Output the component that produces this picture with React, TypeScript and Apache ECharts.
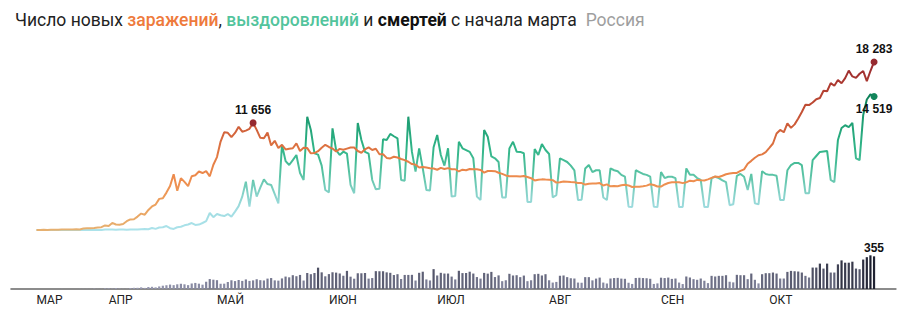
import React, { useEffect, useRef } from 'react';
import * as echarts from 'echarts';

// ---- axis / labels ----
const axisStart = '2020-03-05';
const axisEnd = '2020-11-05';
const dataStart = '2020-03-12';
const monthLabels = ['МАР', 'АПР', 'МАЙ', 'ИЮН', 'ИЮЛ', 'АВГ', 'СЕН', 'ОКТ'];
const monthLabelDates = ['2020-03-12', '2020-04-01', '2020-05-01', '2020-06-01', '2020-07-01', '2020-08-01', '2020-09-01', '2020-10-01'];

// ---- new infections (from 12 March) ----
const casesMar = [6, 11, 14, 4, 30, 21, 33, 52, 54, 53, 61, 71, 57, 163, 182, 196, 228, 270, 302, 501];
const casesApr = [440, 771, 601, 582, 658, 954, 1154, 1175, 1459, 1786, 1667, 2186, 2558, 2774, 3388, 3448, 4070, 4785, 6060, 4268, 5642, 5236, 4774, 5849, 5966, 6361, 6198, 6411, 5841, 7099];
const casesMay = [7933, 9623, 10633, 10581, 10102, 10559, 11231, 10699, 10817, 11012, 11656, 10899, 10028, 9974, 10598, 9200, 9709, 8926, 9263, 8764, 8849, 8894, 9434, 8599, 8946, 8915, 8338, 8371, 8572, 8952, 9268];
const casesJun = [9035, 8863, 8536, 8831, 8726, 8855, 8984, 8985, 8595, 8404, 8779, 8987, 8706, 8835, 8246, 8248, 7843, 7790, 7972, 7889, 7728, 7600, 7425, 7176, 7113, 6800, 6852, 6791, 6719, 6693];
const casesJul = [6556, 6760, 6632, 6736, 6611, 6611, 6368, 6562, 6509, 6635, 6615, 6611, 6537, 6248, 6422, 6428, 6406, 6234, 6109, 5940, 5842, 5862, 5848, 5811, 5871, 5765, 5635, 5395, 5475, 5509, 5482];
const casesAug = [5462, 5427, 5159, 5204, 5267, 5241, 5212, 5189, 5118, 5102, 4945, 5041, 5065, 5061, 5102, 4839, 4969, 4748, 4790, 4767, 4870, 4921, 4852, 4676, 4696, 4711, 4758, 4829, 4980, 4897, 4729];
const casesSep = [4729, 4952, 5110, 5185, 5205, 5195, 5099, 5185, 5363, 5310, 5449, 5406, 5394, 5509, 5670, 5816, 5762, 5905, 6065, 6148, 6196, 6215, 6431, 6595, 7212, 7523, 7867, 8135, 8232, 8481];
const casesOct = [8945, 9412, 10499, 10888, 10633, 11615, 11115, 11493, 12126, 12846, 13634, 13592, 13868, 14231, 14362, 15150, 15099, 15982, 15700, 16319, 15971, 16521, 17340, 16710, 16550, 17000, 17300, 16202, 17300, 18283];

// ---- recoveries ----
const recMar = [0, 0, 1, 0, 0, 3, 0, 2, 3, 0, 9, 0, 0, 5, 0, 3, 6, 0, 1, 45];
const recApr = [45, 41, 28, 46, 43, 39, 61, 52, 61, 94, 117, 88, 224, 121, 269, 300, 430, 200, 120, 300, 350, 508, 600, 760, 550, 587, 762, 963, 1850, 1400];
const recMay = [1740, 1600, 1520, 1740, 1450, 2000, 2600, 3630, 5260, 2540, 5440, 3630, 4600, 5510, 5000, 4900, 3900, 2900, 9250, 7500, 7070, 7600, 8160, 6200, 5440, 12330, 10880, 8340, 8200, 7000, 4350];
const recJun = [4100, 11060, 8700, 8160, 8520, 8300, 4900, 4000, 11650, 9800, 8500, 8300, 5440, 4430, 4500, 9870, 9800, 10450, 10200, 9970, 5440, 5360, 12330, 8500, 6350, 8880, 6700, 4350, 4300, 9000];
const recJul = [10340, 8160, 7000, 8890, 3630, 3700, 9600, 8890, 8700, 8500, 7800, 3630, 3260, 10880, 10150, 8000, 7800, 7400, 3540, 3540, 8880, 9600, 8520, 8500, 8350, 3050, 3050, 8800, 8160, 9350, 8700];
const recAug = [8270, 3540, 3800, 7800, 7600, 7400, 7000, 6500, 3260, 3300, 6700, 7070, 6300, 6500, 6500, 3540, 3260, 6700, 6500, 6400, 6000, 5800, 2540, 2500, 6500, 6300, 6100, 6000, 5800, 2540, 2500];
const recSep = [6300, 5650, 5800, 5800, 5650, 2500, 2500, 6700, 6000, 6000, 5650, 5440, 2500, 2500, 5650, 5800, 5650, 5400, 5200, 2700, 2800, 5900, 6100, 5800, 4350, 6100, 2900, 2800, 6400, 6100];
const recOct = [6000, 6000, 5900, 3260, 3260, 6500, 7070, 7300, 7300, 7070, 4000, 4000, 7600, 8050, 8500, 8550, 8600, 5440, 5200, 9800, 11100, 11400, 11200, 11650, 7800, 7600, 12500, 14200, 14750, 14519];

// ---- deaths ----
const deathsMar = [0, 0, 0, 0, 0, 0, 0, 1, 0, 0, 0, 0, 1, 1, 1, 1, 4, 1, 1, 7];
const deathsApr = [7, 4, 9, 4, 2, 2, 11, 13, 13, 18, 12, 22, 24, 18, 28, 36, 41, 48, 42, 51, 57, 51, 42, 60, 66, 58, 47, 79, 108, 101];
const deathsMay = [96, 57, 58, 76, 95, 86, 98, 88, 104, 88, 94, 107, 96, 93, 113, 119, 94, 91, 115, 135, 127, 150, 139, 153, 92, 174, 161, 174, 232, 181, 138];
const deathsJun = [162, 182, 178, 169, 144, 197, 134, 112, 171, 171, 174, 113, 119, 194, 193, 193, 181, 176, 152, 161, 109, 153, 153, 154, 92, 176, 188, 104, 93, 216];
const deathsJul = [147, 176, 168, 168, 135, 104, 198, 173, 174, 188, 168, 130, 113, 175, 167, 186, 130, 148, 85, 95, 165, 147, 150, 129, 146, 85, 95, 161, 165, 147, 161];
const deathsAug = [95, 70, 77, 144, 147, 129, 117, 114, 70, 68, 129, 129, 94, 113, 124, 70, 60, 114, 119, 121, 113, 111, 68, 55, 120, 122, 119, 117, 111, 55, 61];
const deathsSep = [123, 119, 124, 110, 114, 70, 54, 136, 125, 107, 100, 114, 90, 64, 143, 136, 143, 143, 150, 79, 72, 154, 150, 150, 107, 168, 100, 61, 161, 172];
const deathsOct = [172, 179, 168, 114, 114, 186, 197, 193, 190, 179, 143, 125, 233, 233, 276, 222, 276, 179, 179, 268, 311, 286, 286, 297, 222, 215, 320, 346, 366, 355];

const cases = [...casesMar, ...casesApr, ...casesMay, ...casesJun, ...casesJul, ...casesAug, ...casesSep, ...casesOct];
const recovered = [...recMar, ...recApr, ...recMay, ...recJun, ...recJul, ...recAug, ...recSep, ...recOct];
const deaths = [...deathsMar, ...deathsApr, ...deathsMay, ...deathsJun, ...deathsJul, ...deathsAug, ...deathsSep, ...deathsOct];

function buildCategories(from: string, to: string): string[] {
  const out: string[] = [];
  const d = new Date(from + 'T00:00:00Z');
  const end = new Date(to + 'T00:00:00Z');
  while (d.getTime() <= end.getTime()) {
    out.push(d.toISOString().slice(0, 10));
    d.setUTCDate(d.getUTCDate() + 1);
  }
  return out;
}

const fmt = (v: number) => String(v).replace(/\B(?=(\d{3})+(?!\d))/g, ' ');

function mix(a: string, b: string, t: number) {
  const pa = [1, 3, 5].map((i) => parseInt(a.slice(i, i + 2), 16));
  const pb = [1, 3, 5].map((i) => parseInt(b.slice(i, i + 2), 16));
  const c = pa.map((x, i) => Math.round(x + (pb[i] - x) * t));
  return `rgb(${c[0]},${c[1]},${c[2]})`;
}

const valueLabel = {
  color: '#111',
  fontWeight: 'bold' as const,
  fontSize: 12,
  fontFamily: 'Liberation Sans, Arial, sans-serif',
};

export default function App() {
  const ref = useRef<HTMLDivElement>(null);

  useEffect(() => {
    if (!ref.current) return;
    const chart = echarts.init(ref.current, undefined, { renderer: 'svg' });

    const categories = buildCategories(axisStart, axisEnd);
    const offset = categories.indexOf(dataStart);
    const n = categories.length;

    const peakIdx = cases.indexOf(Math.max(...casesMay));
    const lastIdx = cases.length - 1;

    const caseData: any[] = new Array(n).fill(null);
    const recData: any[] = new Array(n).fill(null);
    const deathData: any[] = new Array(n).fill(null);

    cases.forEach((v, i) => {
      if (i === peakIdx || i === lastIdx) {
        caseData[offset + i] = {
          value: v,
          symbol: 'circle',
          symbolSize: 7,
          itemStyle: { color: '#962a30' },
          label: { show: true, position: 'top', distance: 3, formatter: fmt(v), ...valueLabel },
        };
      } else caseData[offset + i] = v;
    });
    recovered.forEach((v, i) => {
      if (i === recovered.length - 1) {
        recData[offset + i] = {
          value: v,
          symbol: 'circle',
          symbolSize: 7,
          itemStyle: { color: '#12855b' },
          label: { show: true, position: 'bottom', distance: 3, formatter: fmt(v), ...valueLabel },
        };
      } else recData[offset + i] = v;
    });
    const maxD = Math.max(...deaths);
    deaths.forEach((v, i) => {
      if (i === deaths.length - 1) {
        deathData[offset + i] = {
          value: v,
          label: { show: true, position: 'top', distance: 2, formatter: fmt(v), ...valueLabel },
        };
      } else deathData[offset + i] = v;
    });

    const labelMap: Record<string, string> = {};
    monthLabelDates.forEach((d, i) => (labelMap[d] = monthLabels[i]));

    const caseGradient = new echarts.graphic.LinearGradient(0, 0, 0, 1, [
      { offset: 0, color: '#952830' },
      { offset: 0.15, color: '#b03c30' },
      { offset: 0.36, color: '#cc5a38' },
      { offset: 0.55, color: '#e27a44' },
      { offset: 0.7, color: '#ee8d4e' },
      { offset: 0.85, color: '#eca15e' },
      { offset: 1, color: '#e6b070' },
    ]);
    const recGradient = new echarts.graphic.LinearGradient(0, 0, 0, 1, [
      { offset: 0, color: '#0c7f57' },
      { offset: 0.2, color: '#1f9f74' },
      { offset: 0.4, color: '#31b588' },
      { offset: 0.6, color: '#5cc4a6' },
      { offset: 0.75, color: '#8bd4cd' },
      { offset: 0.85, color: '#a2dde2' },
      { offset: 1, color: '#abe2ea' },
    ]);

    const gridLeft = 11.2;
    const gridRight = 8.3;
    const tf = 'Roboto';
    const ts = 17.5;

    chart.setOption({
      animation: false,
      backgroundColor: '#fff',
      title: {
        left: 10,
        top: 6,
        text:
          '{n|Число новых }{o|заражений}{n|, }{g|выздоровлений}{n| и }{b|смертей}{n| с начала марта}{r|Россия}',
        textStyle: {
          fontFamily: tf,
          fontSize: ts,
          fontWeight: 'normal',
          rich: {
            n: { color: '#222', fontSize: ts, fontFamily: tf, fontWeight: 'normal' },
            o: { color: '#ee7a3c', fontSize: ts, fontFamily: tf, fontWeight: 500 },
            g: { color: '#52c49c', fontSize: ts, fontFamily: tf, fontWeight: 500 },
            b: { color: '#111', fontSize: ts, fontFamily: tf, fontWeight: 'bold' },
            r: { color: '#9e9e9e', fontSize: ts, fontFamily: tf, fontWeight: 'normal', padding: [0, 0, 0, 9] },
          },
        },
      },
      grid: [
        { left: gridLeft, right: gridRight, top: 46.2, bottom: 89 },
        { left: gridLeft, right: gridRight, top: 252.2, bottom: 30 },
      ],
      xAxis: [
        {
          type: 'category',
          gridIndex: 0,
          data: categories,
          boundaryGap: false,
          show: false,
        },
        {
          type: 'category',
          gridIndex: 1,
          data: categories,
          boundaryGap: false,
          axisLine: { show: true, lineStyle: { color: '#8c8c8c', width: 2 } },
          axisTick: { show: false },
          splitLine: { show: false },
          axisLabel: {
            interval: (_i: number, value: string) => value in labelMap,
            formatter: (value: string) => labelMap[value] || '',
            align: 'left',
            margin: 5,
            color: '#222',
            fontSize: 12,
            fontFamily: tf,
          },
        },
      ],
      yAxis: [
        { type: 'value', gridIndex: 0, min: 0, max: 20000, show: false, splitLine: { show: false } },
        { type: 'value', gridIndex: 1, min: 0, max: 400, show: false, splitLine: { show: false } },
      ],
      series: [
        {
          name: 'выздоровления',
          type: 'line',
          xAxisIndex: 0,
          yAxisIndex: 0,
          data: recData,
          symbol: 'none',
          showAllSymbol: true,
          lineStyle: { width: 2, color: recGradient },
          z: 2,
          silent: true,
        },
        {
          name: 'заражения',
          type: 'line',
          xAxisIndex: 0,
          yAxisIndex: 0,
          data: caseData,
          symbol: 'none',
          showAllSymbol: true,
          lineStyle: { width: 2, color: caseGradient },
          z: 3,
          silent: true,
        },
        {
          name: 'смерти',
          type: 'bar',
          xAxisIndex: 1,
          yAxisIndex: 1,
          data: deathData,
          barWidth: 2.2,
          silent: true,
          itemStyle: {
            color: (p: any) => {
              const v = typeof p.value === 'number' ? p.value : 0;
              const t = Math.pow(Math.min(1, v / maxD), 1.1);
              return mix('#9a9cb6', '#1c1e2e', t);
            },
          },
          z: 3,
        },
      ],
    });

    return () => chart.dispose();
  }, []);

  return (
    <div
      ref={ref}
      style={{ position: 'absolute', left: 0, top: 0, width: 904, height: 319, background: '#fff' }}
    />
  );
}
